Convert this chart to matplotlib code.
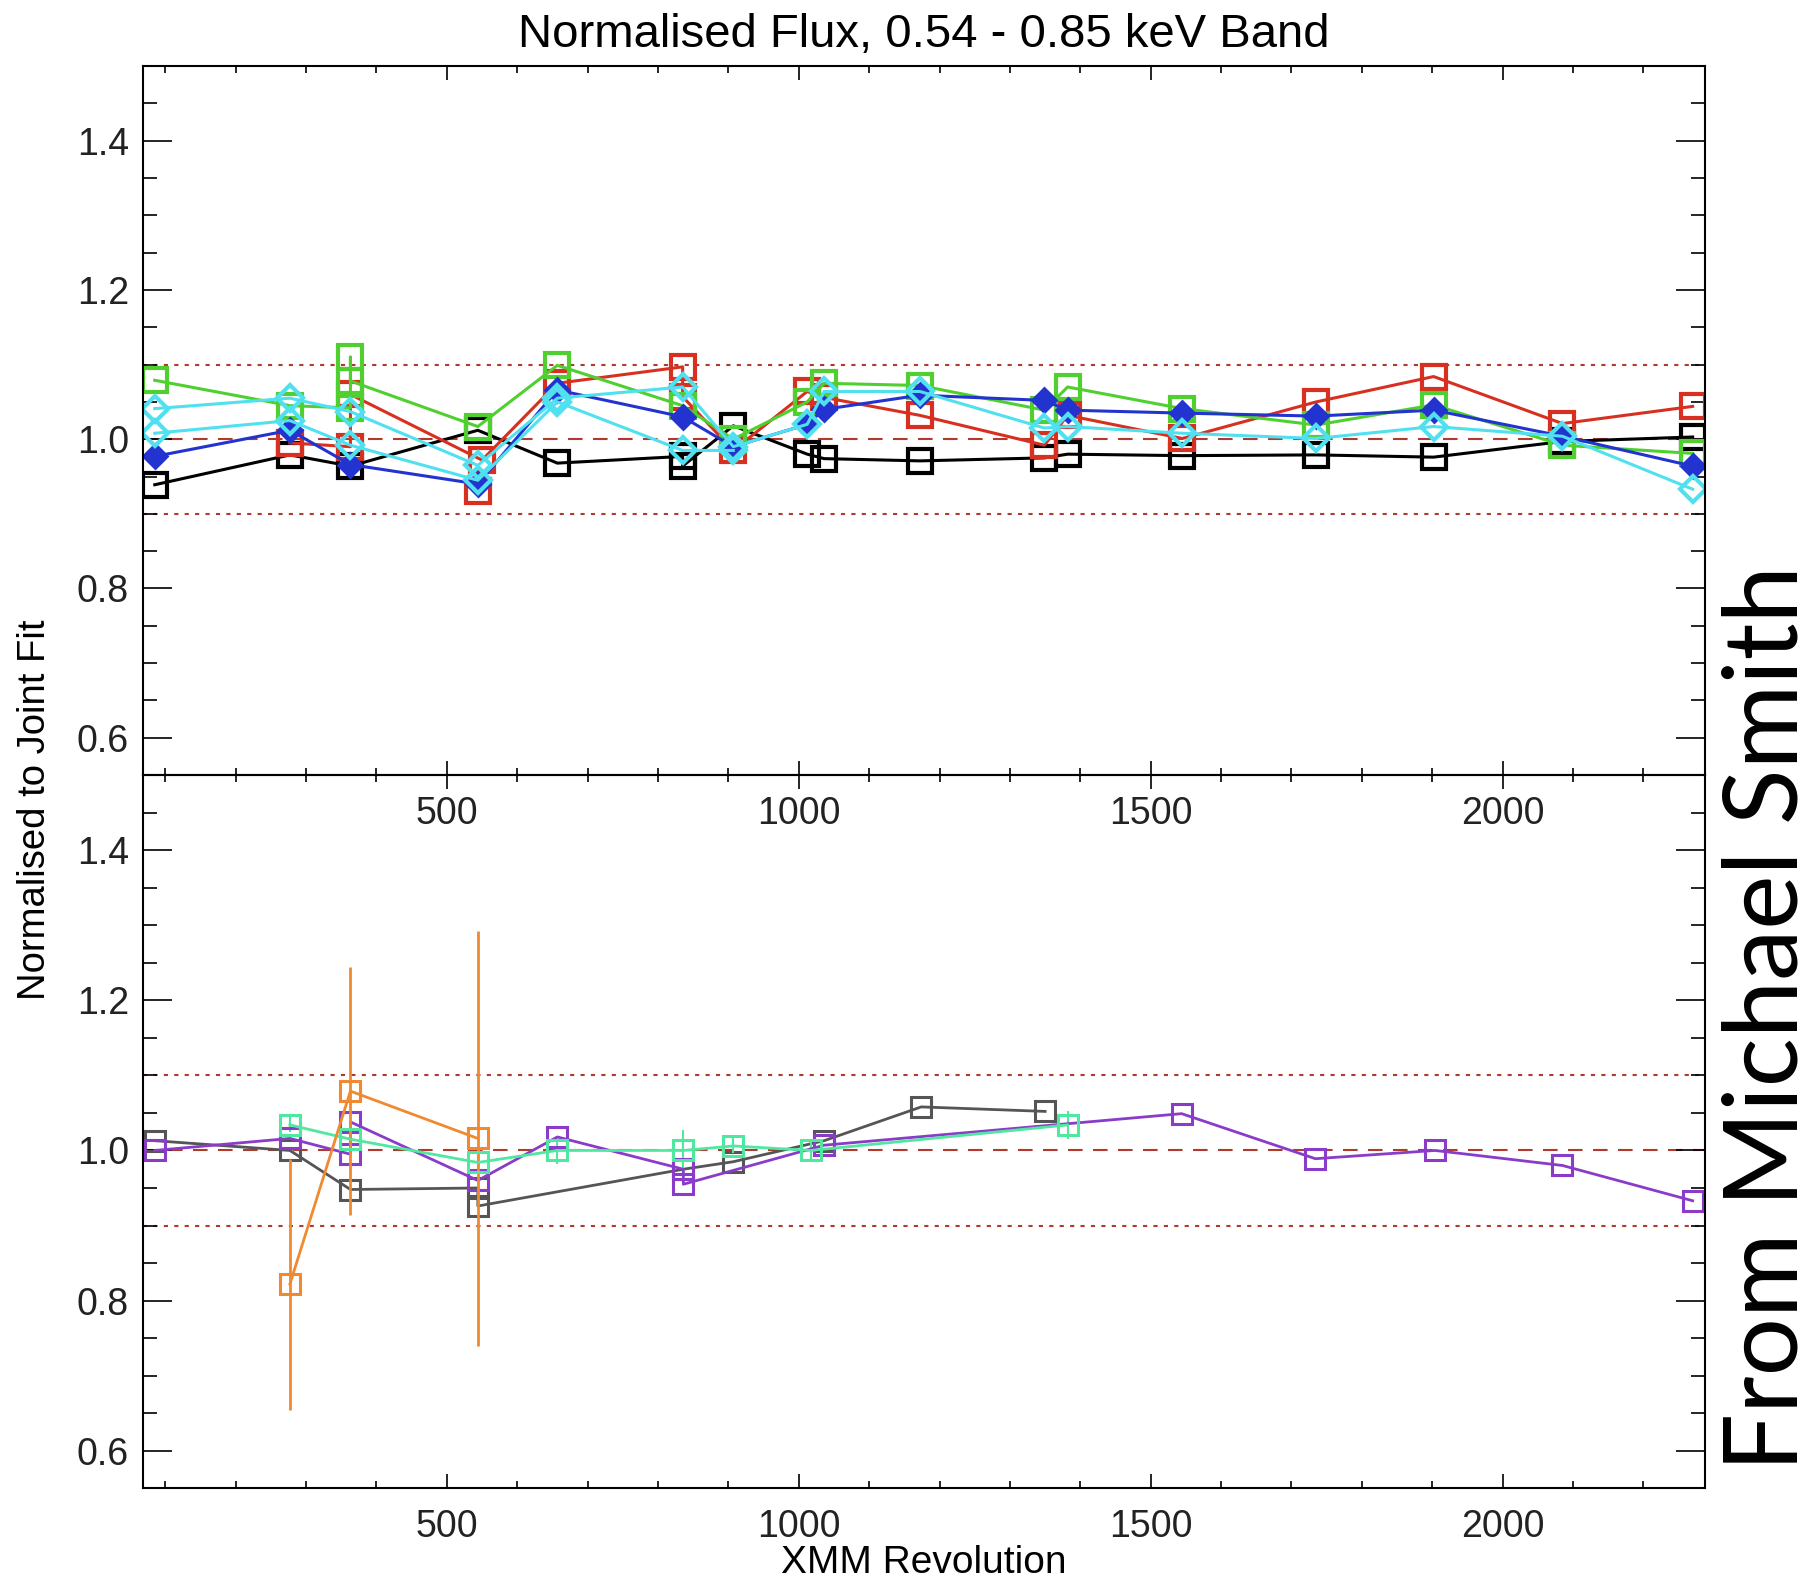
import numpy as np
import matplotlib.pyplot as plt
from matplotlib.ticker import MultipleLocator, FormatStrFormatter

plt.rcParams['font.family'] = ['Liberation Sans', 'DejaVu Sans']

# ---- top panel (0.54 - 0.85 keV) ----
black_x = [85, 277, 363, 544, 657, 835, 835, 907, 1012, 1036, 1172, 1349, 1382, 1545, 1735, 1902, 2085, 2270]
black_y = [0.939, 0.979, 0.964, 1.012, 0.968, 0.977, 0.964, 1.018, 0.980, 0.974, 0.971, 0.975, 0.980, 0.978, 0.979, 0.976, 0.997, 1.003]

red_x = [277, 363, 363, 550, 657, 835, 835, 907, 1012, 1036, 1172, 1349, 1382, 1545, 1735, 1902, 2085, 2270]
red_y = [0.995, 0.990, 1.060, 0.972, 1.075, 1.097, 1.057, 0.985, 1.064, 1.056, 1.032, 0.992, 1.032, 1.001, 1.050, 1.084, 1.021, 1.044]
red_extra_x = [544]
red_extra_y = [0.930]

green_x = [85, 277, 363, 363, 363, 544, 657, 835, 907, 1012, 1036, 1172, 1349, 1382, 1545, 1735, 1902, 2085, 2270]
green_y = [1.079, 1.045, 1.042, 1.110, 1.078, 1.017, 1.099, 1.045, 1.000, 1.050, 1.075, 1.072, 1.039, 1.070, 1.041, 1.019, 1.046, 0.992, 0.981]

blue_x = [85, 277, 363, 544, 657, 835, 907, 1012, 1036, 1172, 1349, 1382, 1545, 1735, 1902, 2085, 2270]
blue_y = [0.977, 1.012, 0.966, 0.940, 1.066, 1.030, 0.990, 1.020, 1.040, 1.059, 1.052, 1.039, 1.035, 1.031, 1.039, 1.004, 0.964]

cyan_x = [85, 277, 363, 544, 657, 835, 907, 1012, 1036, 1172, 1349, 1382, 1545, 1735, 1902, 2085, 2270]
cyan_y = [1.041, 1.055, 1.037, 0.965, 1.055, 1.070, 0.990, 1.020, 1.064, 1.064, 1.015, 1.017, 1.008, 1.001, 1.017, 1.004, 0.933]

cyan2_x = [85, 277, 363, 544, 657, 835, 907]
cyan2_y = [1.008, 1.025, 0.992, 0.945, 1.050, 0.985, 0.985]

# ---- bottom panel ----
gray_x = [85, 277, 363, 544, 544, 836, 907, 1036, 1174, 1350]
gray_y = [1.013, 1.000, 0.948, 0.950, 0.926, 0.975, 0.985, 1.013, 1.058, 1.052]

mint_x = [277, 363, 544, 657, 836, 907, 1017, 1382]
mint_y = [1.034, 1.015, 0.984, 1.000, 1.000, 1.006, 1.000, 1.034]
mint_err = [0.010, 0.010, 0.010, 0.018, 0.027, 0.010, 0.015, 0.019]

purple_x = [85, 277, 363, 363, 544, 657, 836, 836, 1036, 1544, 1734, 1904, 2085, 2270]
purple_y = [1.000, 1.016, 0.995, 1.038, 0.960, 1.018, 0.975, 0.955, 1.007, 1.049, 0.989, 1.000, 0.980, 0.933]

orange_x = [277, 363, 544]
orange_y = [0.822, 1.079, 1.016]
orange_err = [0.167, 0.165, 0.276]

fig = plt.figure(figsize=(18.19, 15.82), dpi=100)
ax1 = fig.add_axes([0.0785, 0.5101, 0.859, 0.4481])
ax2 = fig.add_axes([0.0785, 0.0592, 0.859, 0.4509])
ax2.set_facecolor('none')


def style(ax):
    ax.set_xlim(68, 2288)
    ax.set_ylim(0.55, 1.5)
    ax.xaxis.set_major_locator(MultipleLocator(500))
    ax.xaxis.set_minor_locator(MultipleLocator(100))
    ax.yaxis.set_major_locator(MultipleLocator(0.2))
    ax.yaxis.set_minor_locator(MultipleLocator(0.05))
    ax.yaxis.set_major_formatter(FormatStrFormatter('%.1f'))
    ax.tick_params(which='both', direction='in', top=True, right=True,
                   width=1.2, labelsize=27, labelcolor='#222222')
    ax.tick_params(axis='x', which='major', length=10, pad=15)
    ax.tick_params(axis='x', which='minor', length=5)
    ax.tick_params(axis='y', which='major', length=21, pad=10)
    ax.tick_params(axis='y', which='minor', length=10)
    for s in ax.spines.values():
        s.set_linewidth(1.5)
    ax.axhline(1.1, color='#b03a2e', ls=(0, (2, 3)), lw=1.5, zorder=1)
    ax.axhline(0.9, color='#b03a2e', ls=(0, (2, 3)), lw=1.5, zorder=1)
    ax.axhline(1.0, color='#b03a2e', ls=(0, (7, 5)), lw=1.5, zorder=1)


style(ax1)
style(ax2)

sq = dict(marker='s', ms=17, mfc='none', mew=3, lw=2.2)
ax1.plot(black_x, black_y, color='black', **sq)
ax1.plot(red_x, red_y, color='#d83020', **sq)
ax1.plot(red_extra_x, red_extra_y, color='#d83020', ls='none', marker='s', ms=17, mfc='none', mew=3)
ax1.plot(green_x, green_y, color='#50d030', **sq)
ax1.plot(blue_x, blue_y, color='#2233d0', marker='D', ms=12, mfc='#2233d0', mew=2, lw=2.2)
ax1.plot(cyan_x, cyan_y, color='#50e0f0', marker='D', ms=13, mfc='none', mew=3, lw=2.2)
ax1.plot(cyan2_x, cyan2_y, color='#50e0f0', marker='D', ms=13, mfc='none', mew=3, lw=2.2)

sq2 = dict(marker='s', ms=14, mfc='none', mew=2.2, lw=2)
ax2.plot(gray_x, gray_y, color='#555555', **sq2)
ax2.errorbar(mint_x, mint_y, yerr=mint_err, color='#50e8a0', capsize=0, elinewidth=1.5, **sq2)
ax2.plot(purple_x, purple_y, color='#8a3cc8', **sq2)
ax2.errorbar(orange_x, orange_y, yerr=orange_err, color='#f08a30', capsize=0, elinewidth=2, **sq2)

ax1.set_title('Normalised Flux, 0.54 - 0.85 keV Band', fontsize=34, pad=14)
fig.text(0.508, 0.012, 'XMM Revolution', fontsize=28, ha='center', va='center')
fig.text(0.019, 0.488, 'Normalised to Joint Fit', fontsize=27.5, rotation=90,
         ha='center', va='center')
fig.text(0.9725, 0.3565, 'From Michael Smith', fontsize=74, rotation=90,
         ha='center', va='center', family=['Lato', 'DejaVu Sans'])

fig.savefig('out.png', dpi=100)
